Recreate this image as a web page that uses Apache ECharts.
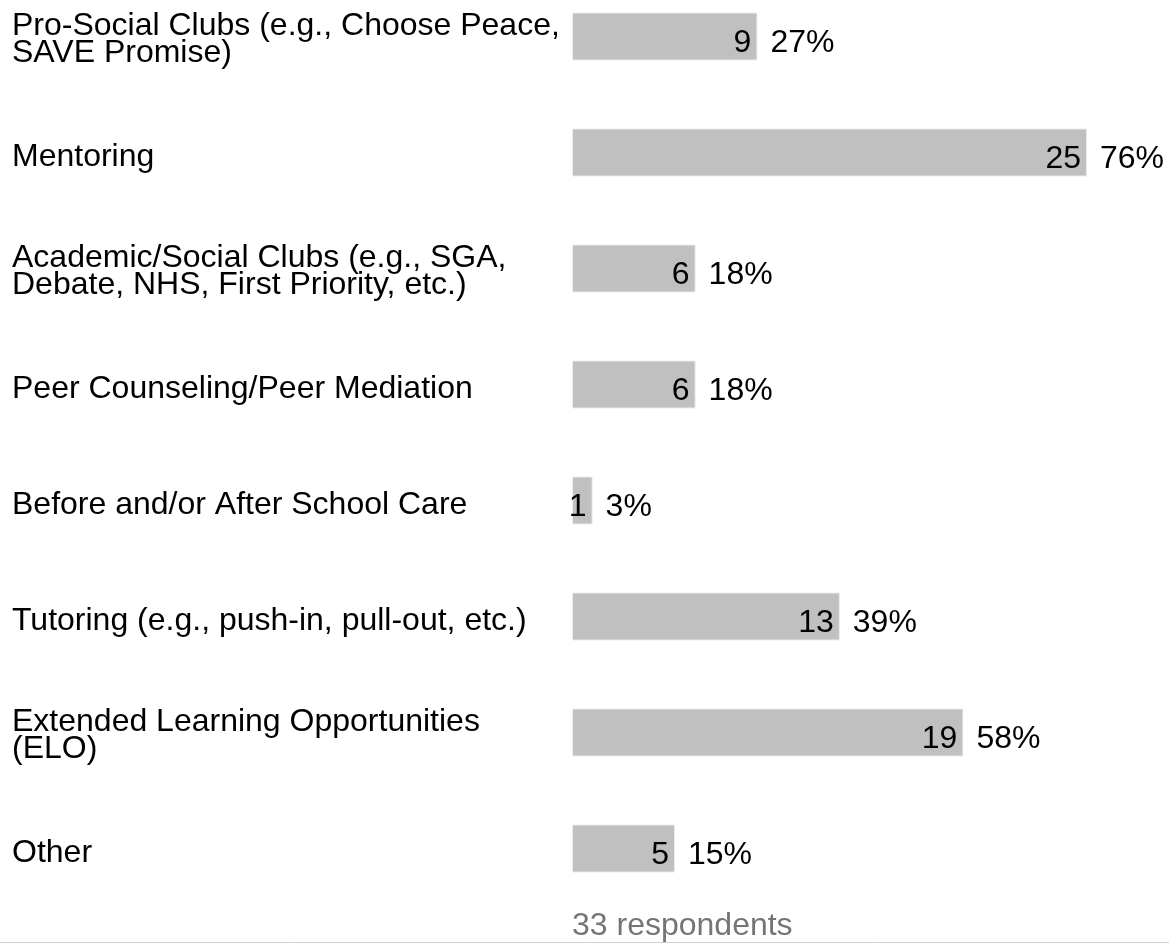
<!DOCTYPE html>
<html>
<head>
<meta charset="utf-8">
<style>
html,body{margin:0;padding:0;background:#fff;}
#chart{width:1169px;height:944px;}
</style>
<script src="https://cdn.jsdelivr.net/npm/echarts@6/dist/echarts.min.js"></script>
</head>
<body>
<div id="chart"></div>
<script>
const categories = [
  'Pro-Social Clubs (e.g., Choose Peace,\nSAVE Promise)',
  'Mentoring',
  'Academic/Social Clubs (e.g., SGA,\nDebate, NHS, First Priority, etc.)',
  'Peer Counseling/Peer Mediation',
  'Before and/or After School Care',
  'Tutoring (e.g., push-in, pull-out, etc.)',
  'Extended Learning Opportunities\n(ELO)',
  'Other'
];
const counts = [9, 25, 6, 6, 1, 13, 19, 5];
const percents = ['27%', '76%', '18%', '18%', '3%', '39%', '58%', '15%'];
const respondentsText = '33 respondents';

const FONT = 'Liberation Sans, Arial, sans-serif';
const FS = 32;

const chart = echarts.init(document.getElementById('chart'));
chart.setOption({
  animation: false,
  grid: { left: 572, top: 36.5, width: 515, height: 812, containLabel: false },
  xAxis: { type: 'value', min: 0, max: 25, show: false },
  yAxis: {
    type: 'category', data: categories, inverse: true, boundaryGap: false,
    axisLine: { show: false }, axisTick: { show: false }, splitLine: { show: false },
    axisLabel: {
      align: 'left', margin: 560, interval: 0,
      formatter: v => {
        const lines = v.split('\n');
        const sp = lines.length > 1 ? '{s2| }' : '{s1| }';
        return sp + '\n' + lines.map(l => '{a|' + l + '}').join('\n');
      },
      rich: {
        a: { color: '#000', fontFamily: FONT, fontSize: FS, lineHeight: 27 },
        s1: { fontSize: 1, lineHeight: 10 },
        s2: { fontSize: 1, lineHeight: 6 }
      }
    }
  },
  series: [
    {
      type: 'bar', data: counts, barWidth: 48,
      itemStyle: { color: '#c0c0c0', borderColor: '#ececec', borderWidth: 1 },
      label: {
        show: true, position: 'insideRight', distance: 6, offset: [0, 7], color: '#000',
        fontFamily: FONT, fontSize: FS
      }
    },
    {
      type: 'bar', data: counts, barWidth: 48, barGap: '-100%', silent: true,
      itemStyle: { color: 'transparent' },
      label: {
        show: true, position: 'right', distance: 13, offset: [0, 7], color: '#000',
        fontFamily: FONT, fontSize: FS,
        formatter: p => percents[p.dataIndex]
      }
    }
  ],
  graphic: [
    { type: 'text', left: 572, top: 910, style: { text: respondentsText, fill: '#757575', font: FS + 'px ' + FONT } },
    { type: 'line', shape: { x1: 0, y1: 942.5, x2: 1169, y2: 942.5 }, style: { stroke: '#d0d0d0', lineWidth: 1 } }
  ]
});
</script>
</body>
</html>
